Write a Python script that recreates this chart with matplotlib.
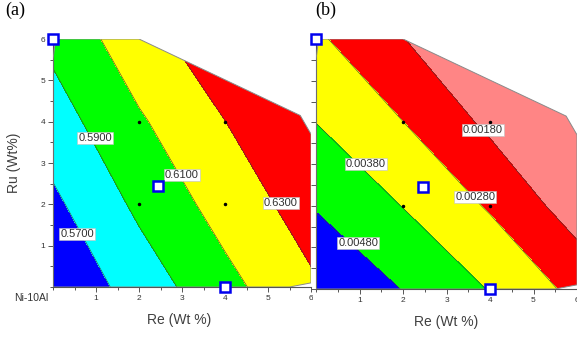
import numpy as np
import matplotlib
matplotlib.use('Agg')
import matplotlib.pyplot as plt
from matplotlib.patches import Polygon, Rectangle
from matplotlib.ticker import MultipleLocator

plt.rcParams['font.family'] = ['Liberation Sans', 'DejaVu Sans']

# grid nodes (Re, Ru in wt%)
re_grid = [0, 2, 4, 6]
ru_grid = [0, 2, 4, 6]

# values, rows = Ru, cols = Re
z_a = [[0.552, 0.579, 0.604, 0.627],
	[0.566, 0.594, 0.618, 0.639],
	[0.581, 0.6075, 0.6298, 0.651],
	[0.595, 0.622, 0.644, 0.665]]

z_b = [[0.00570, 0.00477, 0.00375, 0.00252],
	[0.00472, 0.00377, 0.00269, 0.00130],
	[0.00379, 0.00281, 0.00159, 0.00019],
	[0.00296, 0.00183, 0.00060, -0.00080]]

levels_a = [0.50, 0.57, 0.59, 0.61, 0.63, 0.70]
colors_a = ['#0000ff', '#00ffff', '#00ff00', '#ffff00', '#ff0000']
levels_b = [-0.01, 0.0018, 0.0028, 0.0038, 0.0048, 0.01]
colors_b = ['#ff8585', '#ff0000', '#ffff00', '#00ff00', '#0000ff']

# labels on the contour lines
lab_a = ['0.5700', '0.5900', '0.6100', '0.6300']
lab_a_re = [0.56, 0.98, 3.0, 5.3]
lab_a_ru = [1.28, 3.6, 2.71, 2.03]
lab_b = ['0.00480', '0.00380', '0.00280', '0.00180']
lab_b_re = [0.97, 1.15, 3.66, 3.84]
lab_b_ru = [1.1, 3.0, 2.21, 3.82]

# outline of the explored composition range
hull_re = [0, 0, 0.06, 2, 5.75, 6, 6, 5.5]
hull_ru = [0, 5.5, 6, 6, 4.15, 3.7, 0.1, 0]

# alloys (squares) and design points (dots)
alloy_re = [0, 2.45, 4]
alloy_ru = [6, 2.45, 0]
design_re = [2, 4, 2, 4]
design_ru = [4, 4, 2, 2]


def draw_panel(ax, z, levels, colors, labs, lab_re, lab_ru, show_ylab):
	X, Y = np.meshgrid(re_grid, ru_grid)
	Z = np.array(z)
	hull = Polygon(np.column_stack([hull_re, hull_ru]), closed=True,
		facecolor='none', edgecolor='#8a8a8a', lw=0.7, zorder=3)
	ax.add_patch(hull)
	cf = ax.contourf(X, Y, Z, levels=levels, colors=colors, zorder=1)
	cf.set_clip_path(hull)
	cl = ax.contour(X, Y, Z, levels=levels[1:-1], colors='#3a3a3a', linewidths=0.4, zorder=2)
	cl.set_clip_path(hull)

	ax.plot(design_re, design_ru, 'o', color='k', ms=1.5, zorder=4)
	for t, xx, yy in zip(labs, lab_re, lab_ru):
		ax.text(xx, yy, t, ha='center', va='center', fontsize=8, color='#303030', zorder=5,
			bbox=dict(boxstyle='square,pad=0.1', fc='white', ec='#c0c0c0', lw=0.4))
	ax.plot(alloy_re, alloy_ru, 's', ms=6.5, mfc='white', mec='#0000ee', mew=1.8,
		clip_on=False, zorder=6)

	ax.set_xlim(0, 6)
	ax.set_ylim(0, 6)
	for s in ['top', 'right']:
		ax.spines[s].set_visible(False)
	for s in ['left', 'bottom']:
		ax.spines[s].set_color('#555555')
		ax.spines[s].set_linewidth(0.8)
	ax.xaxis.set_major_locator(MultipleLocator(1))
	ax.xaxis.set_minor_locator(MultipleLocator(0.5))
	ax.yaxis.set_major_locator(MultipleLocator(1))
	ax.yaxis.set_minor_locator(MultipleLocator(0.5))
	ax.set_xticks([1, 2, 3, 4, 5, 6])
	ax.tick_params(which='both', direction='out', color='#555555', width=0.7,
		labelsize=6, labelcolor='#333333', pad=2)
	ax.tick_params(which='major', length=3.5)
	ax.tick_params(which='minor', length=2)
	if show_ylab:
		ax.set_yticks([1, 2, 3, 4, 5, 6])
		ax.set_ylabel('Ru (Wt%)', fontsize=10, color='#404040')
		ax.yaxis.set_label_coords(-0.123, 0.5)
		ax.text(-0.018, -0.045, 'Ni-10Al', transform=ax.transAxes, ha='right', va='center',
			fontsize=7.5, color='#333333')
	else:
		ax.tick_params(which='both', axis='y', labelleft=False, length=3.5)
	ax.set_xlabel('Re (Wt %)', fontsize=10, color='#404040')
	ax.xaxis.set_label_coords(0.49 if show_ylab else 0.5, -0.105)


fig = plt.figure(figsize=(5.77, 3.38), dpi=100)
W, H = 577.0, 338.0
ax_a = fig.add_axes([53 / W, (H - 287) / H, 258 / W, 248 / H])
ax_a.set_zorder(0)
ax_b = fig.add_axes([316 / W, (H - 289) / H, 261 / W, 250 / H])
ax_b.set_zorder(2)

draw_panel(ax_a, z_a, levels_a, colors_a, lab_a, lab_a_re, lab_a_ru, True)
draw_panel(ax_b, z_b, levels_b, colors_b, lab_b, lab_b_re, lab_b_ru, False)

# the right picture sits on top of the left one
fig.add_artist(Rectangle((313 / W, 0), 1, 1, transform=fig.transFigure,
	facecolor='white', edgecolor='none', zorder=1))

fig.text(5 / W, 1 - 2 / H, '(a)', va='top', ha='left', fontsize=13, family='Liberation Serif')
fig.text(315 / W, 1 - 2 / H, '(b)', va='top', ha='left', fontsize=13, family='Liberation Serif')

fig.savefig('out.png', dpi=100)
